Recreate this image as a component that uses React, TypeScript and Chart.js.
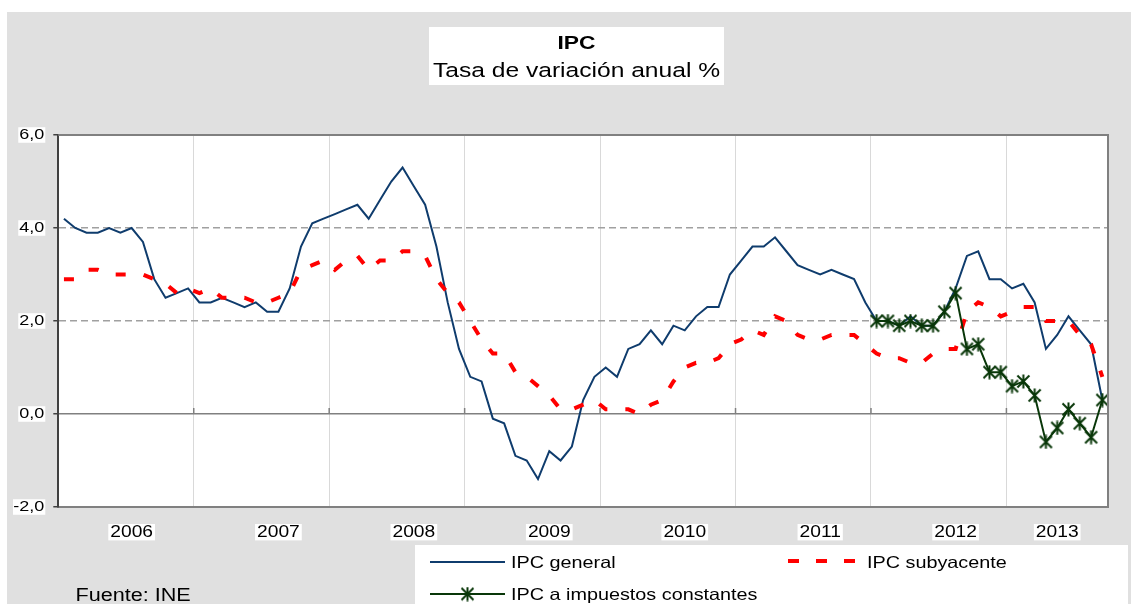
import React, { useEffect, useRef } from "react";
import { Chart, registerables } from "chart.js";

Chart.register(...registerables);

// ---------- data ----------
const years = ["2006", "2007", "2008", "2009", "2010", "2011", "2012", "2013"];
const monthsPerYear = [12, 12, 12, 12, 12, 12, 12, 9];
const monthNames = ["ene", "feb", "mar", "abr", "may", "jun", "jul", "ago", "sep", "oct", "nov", "dic"];
// index of the month under which each year label is printed
const yearLabelIndex = [6, 19, 31, 43, 55, 67, 79, 88];

const ipcGeneral = [
  4.2, 4.0, 3.9, 3.9, 4.0, 3.9, 4.0, 3.7, 2.9, 2.5, 2.6, 2.7,
  2.4, 2.4, 2.5, 2.4, 2.3, 2.4, 2.2, 2.2, 2.7, 3.6, 4.1, 4.2,
  4.3, 4.4, 4.5, 4.2, 4.6, 5.0, 5.3, 4.9, 4.5, 3.6, 2.4, 1.4,
  0.8, 0.7, -0.1, -0.2, -0.9, -1.0, -1.4, -0.8, -1.0, -0.7, 0.3, 0.8,
  1.0, 0.8, 1.4, 1.5, 1.8, 1.5, 1.9, 1.8, 2.1, 2.3, 2.3, 3.0,
  3.3, 3.6, 3.6, 3.8, 3.5, 3.2, 3.1, 3.0, 3.1, 3.0, 2.9, 2.4,
  2.0, 2.0, 1.9, 2.1, 1.9, 1.9, 2.2, 2.7, 3.4, 3.5, 2.9, 2.9,
  2.7, 2.8, 2.4, 1.4, 1.7, 2.1, 1.8, 1.5, 0.3,
];

const ipcSubyacente = [
  2.9, 2.9, 3.1, 3.1, 3.0, 3.0, 3.0, 3.0, 2.9, 2.8, 2.6, 2.7,
  2.6, 2.7, 2.5, 2.5, 2.5, 2.4, 2.4, 2.5, 2.6, 3.1, 3.2, 3.3,
  3.1, 3.3, 3.4, 3.1, 3.3, 3.3, 3.5, 3.5, 3.4, 2.9, 2.6, 2.4,
  2.0, 1.6, 1.3, 1.3, 0.9, 0.8, 0.6, 0.4, 0.1, 0.1, 0.2, 0.3,
  0.1, 0.1, 0.1, 0.0, 0.2, 0.3, 0.7, 1.0, 1.1, 1.1, 1.2, 1.5,
  1.6, 1.8, 1.7, 2.1, 2.0, 1.7, 1.6, 1.6, 1.7, 1.7, 1.7, 1.5,
  1.3, 1.2, 1.2, 1.1, 1.1, 1.3, 1.4, 1.4, 2.2, 2.4, 2.3, 2.1,
  2.2, 2.3, 2.3, 2.0, 2.0, 2.0, 1.7, 1.5, 0.8,
];

// IPC a impuestos constantes: from ene-2012 onwards
const impuestosStart = "ene-12";
const ipcImpuestosConstantes = [
  2.0, 2.0, 1.9, 2.0, 1.9, 1.9, 2.2, 2.6, 1.4, 1.5, 0.9, 0.9,
  0.6, 0.7, 0.4, -0.6, -0.3, 0.1, -0.2, -0.5, 0.3,
];

const seriesNames = ["IPC general", "IPC subyacente", "IPC a impuestos constantes"];
const titleText = "IPC";
const subtitleText = "Tasa de variación anual %";
const sourceText = "Fuente: INE";
const yMin = -2;
const yMax = 6;
const yStep = 2;

// ---------- styling ----------
const FONT = "'Liberation Sans', Arial, sans-serif";
const SX = 1.2; // horizontal text stretch (reference text is wide)
const BLUE = "#0f3c6d";
const RED = "#ff0000";
const GREEN = "#093709";

const labels: string[] = years.flatMap((y, k) =>
  monthNames.slice(0, monthsPerYear[k]).map((m) => `${m}-${y.slice(2)}`)
);
const startIdx = labels.indexOf(impuestosStart);
const impuestosData: (number | null)[] = labels.map((_, i) =>
  i >= startIdx ? ipcImpuestosConstantes[i - startIdx] ?? null : null
);

function makeStar(color: string) {
  const c = document.createElement("canvas");
  c.width = 15;
  c.height = 15;
  const g = c.getContext("2d")!;
  g.strokeStyle = color;
  g.lineWidth = 2;
  g.beginPath();
  g.moveTo(1.5, 1.5);
  g.lineTo(13.5, 13.5);
  g.moveTo(13.5, 1.5);
  g.lineTo(1.5, 13.5);
  g.moveTo(7.5, 0.5);
  g.lineTo(7.5, 14.5);
  g.stroke();
  return c;
}

function stretchText(ctx: any) {
  if (ctx.__stretched) return;
  ctx.__stretched = true;
  const proto = CanvasRenderingContext2D.prototype;
  const origFill = proto.fillText;
  const origMeasure = proto.measureText;
  ctx.fillText = function (text: string, x: number, y: number, maxWidth?: number) {
    this.save();
    this.translate(x, y);
    this.scale(SX, 1);
    if (maxWidth === undefined) origFill.call(this, text, 0, 0);
    else origFill.call(this, text, 0, 0, maxWidth / SX);
    this.restore();
  };
  ctx.measureText = function (text: string) {
    const m = origMeasure.call(this, text);
    return {
      width: m.width * SX,
      actualBoundingBoxAscent: m.actualBoundingBoxAscent,
      actualBoundingBoxDescent: m.actualBoundingBoxDescent,
      actualBoundingBoxLeft: m.actualBoundingBoxLeft * SX,
      actualBoundingBoxRight: m.actualBoundingBoxRight * SX,
      fontBoundingBoxAscent: m.fontBoundingBoxAscent,
      fontBoundingBoxDescent: m.fontBoundingBoxDescent,
    };
  };
}

export default function App() {
  const ref = useRef<HTMLCanvasElement>(null);

  useEffect(() => {
    const canvas = ref.current!;
    const ctx2d = canvas.getContext("2d")!;
    stretchText(ctx2d);
    const star = makeStar(GREEN);

    const decor = {
      id: "decor",
      beforeDraw(chart: any) {
        const { ctx, chartArea: a } = chart;
        ctx.save();
        ctx.fillStyle = "#ffffff";
        ctx.fillRect(a.left, a.top, a.right - a.left, a.bottom - a.top);
        ctx.fillRect(422, 15, 295, 58); // title box
        ctx.fillRect(408, 533, 713, 59); // legend box
        ctx.restore();
      },
      beforeDatasetsDraw(chart: any) {
        const { ctx } = chart;
        const xs = chart.scales.x;
        const ys = chart.scales.y;
        const y0 = ys.getPixelForValue(0);
        ctx.save();
        ctx.strokeStyle = "#808080";
        ctx.lineWidth = 1.5;
        ctx.beginPath();
        for (let i = 12; i < labels.length; i += 12) {
          const px = (xs.getPixelForValue(i - 1) + xs.getPixelForValue(i)) / 2;
          ctx.moveTo(px, y0 - 6);
          ctx.lineTo(px, y0);
        }
        ctx.stroke();
        ctx.restore();
      },
      afterDatasetsDraw(chart: any) {
        const { ctx, chartArea: a } = chart;
        ctx.save();
        ctx.strokeStyle = "#808080";
        ctx.lineWidth = 2;
        ctx.beginPath();
        ctx.moveTo(a.left, a.top);
        ctx.lineTo(a.right, a.top);
        ctx.lineTo(a.right, a.bottom);
        ctx.stroke();
        ctx.restore();
      },
      afterDraw(chart: any) {
        const { ctx } = chart;
        const ds = chart.data.datasets;
        const text = (s: string, x: number, y: number, font: string, align: CanvasTextAlign) => {
          ctx.font = font;
          ctx.textAlign = align;
          ctx.textBaseline = "middle";
          ctx.fillStyle = "#000000";
          ctx.fillText(s, x, y);
        };
        ctx.save();
        // title
        text(titleText, 569.5, 31.5, `bold 19px ${FONT}`, "center");
        text(subtitleText, 569.5, 59.3, `20.5px ${FONT}`, "center");
        // legend samples
        ctx.lineCap = "butt";
        ctx.strokeStyle = ds[0].borderColor;
        ctx.lineWidth = 2;
        ctx.beginPath();
        ctx.moveTo(423, 550);
        ctx.lineTo(498, 550);
        ctx.stroke();

        ctx.strokeStyle = ds[1].borderColor;
        ctx.lineWidth = 4;
        ctx.setLineDash([11, 17]);
        ctx.beginPath();
        ctx.moveTo(781, 549);
        ctx.lineTo(849, 549);
        ctx.stroke();
        ctx.setLineDash([]);

        ctx.strokeStyle = ds[2].borderColor;
        ctx.lineWidth = 2;
        ctx.beginPath();
        ctx.moveTo(423, 582);
        ctx.lineTo(498, 582);
        ctx.stroke();
        ctx.drawImage(star, 460.5 - 7.5, 582 - 7.5);

        const lf = `16.5px ${FONT}`;
        text(seriesNames[0], 504, 551, lf, "left");
        text(seriesNames[1], 860, 551, lf, "left");
        text(seriesNames[2], 504, 583, lf, "left");
        // source
        text(sourceText, 68.5, 584, `18px ${FONT}`, "left");
        ctx.restore();
      },
    };

    const chart = new Chart(canvas, {
      type: "line",
      data: {
        labels,
        datasets: [
          {
            label: seriesNames[0],
            data: ipcGeneral,
            borderColor: BLUE,
            backgroundColor: BLUE,
            borderWidth: 2,
            pointRadius: 0,
            tension: 0,
            order: 2,
          },
          {
            label: seriesNames[1],
            data: ipcSubyacente,
            borderColor: RED,
            backgroundColor: RED,
            borderWidth: 4,
            borderDash: [10, 18],
            borderCapStyle: "butt",
            pointRadius: 0,
            tension: 0,
            order: 1,
          },
          {
            label: seriesNames[2],
            data: impuestosData,
            borderColor: GREEN,
            backgroundColor: GREEN,
            borderWidth: 2,
            pointStyle: star as any,
            pointRadius: 7,
            pointHoverRadius: 7,
            tension: 0,
            order: 0,
            clip: 8,
          } as any,
        ],
      },
      options: {
        animation: false,
        responsive: false,
        devicePixelRatio: 1,
        events: [],
        layout: { padding: { top: 123, right: 23, bottom: 57, left: 6 } },
        plugins: {
          legend: { display: false },
          title: { display: false },
          tooltip: { enabled: false },
        },
        scales: {
          x: {
            type: "category",
            offset: true,
            afterFit: (s: any) => {
              s.height = 40;
            },
            grid: {
              offset: true,
              drawTicks: false,
              lineWidth: 1,
              color: (c: any) => (c.index > 0 && c.index % 12 === 0 ? "#d9d9d9" : "rgba(0,0,0,0)"),
            },
            border: { display: true, color: "#808080", width: 2 },
            ticks: {
              autoSkip: false,
              maxRotation: 0,
              minRotation: 0,
              padding: 18,
              color: "#000000",
              font: { family: FONT, size: 16, lineHeight: 0.9 },
              callback: (_v: any, i: number) => {
                const k = yearLabelIndex.indexOf(i);
                return k >= 0 ? years[k] : "";
              },
              showLabelBackdrop: (c: any) => !!(c.tick && c.tick.label),
              backdropColor: "#ffffff",
              backdropPadding: { x: 2, y: 1 },
            },
          } as any,
          y: {
            min: yMin,
            max: yMax,
            afterFit: (s: any) => {
              s.width = 45.3;
            },
            grid: {
              drawTicks: true,
              tickLength: 5,
              tickColor: "#404040",
              tickWidth: 1.5,
              lineWidth: 1.5,
              color: (c: any) => {
                const v = c.tick ? c.tick.value : null;
                if (v === 0) return "#808080";
                if (v === yMin || v === yMax) return "rgba(0,0,0,0)";
                return "#a0a0a0";
              },
            },
            border: {
              display: true,
              color: "#404040",
              width: 2,
              dash: (c: any) => (c.tick && c.tick.value !== 0 ? [7, 4] : []),
            },
            ticks: {
              stepSize: yStep,
              padding: 9,
              color: "#000000",
              font: { family: FONT, size: 15, lineHeight: 0.9 },
              callback: (v: any) => Number(v).toFixed(1).replace(".", ","),
              showLabelBackdrop: true,
              backdropColor: "#ffffff",
              backdropPadding: { x: 1, y: 1 },
            },
          } as any,
        },
      },
      plugins: [decor],
    } as any);

    return () => chart.destroy();
  }, []);

  return (
    <div
      style={{
        position: "fixed",
        left: 7,
        top: 12,
        width: 1124,
        height: 592,
        background: "#e0e0e0",
      }}
    >
      <canvas ref={ref} width={1124} height={592} style={{ display: "block" }} />
    </div>
  );
}
